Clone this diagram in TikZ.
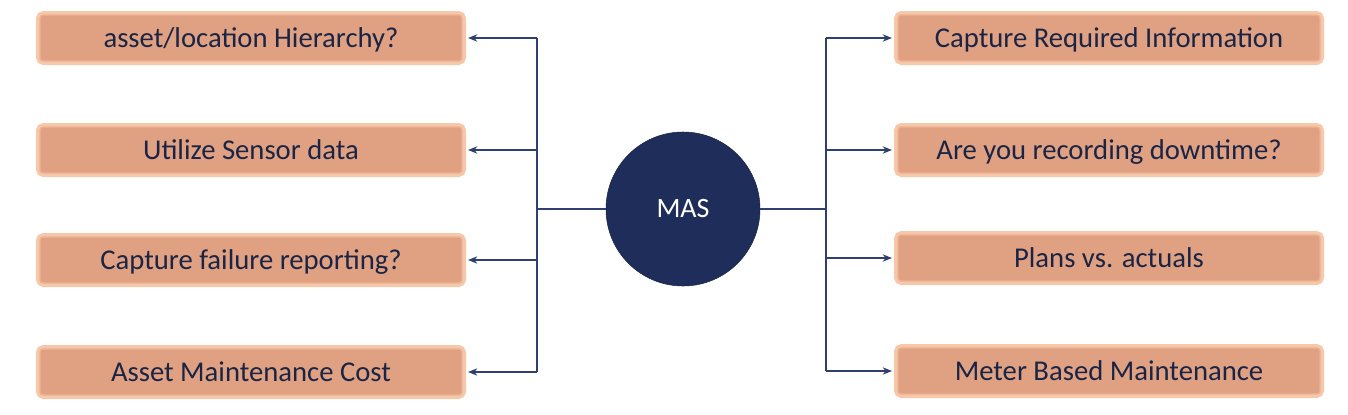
\documentclass[tikz,border=0pt]{standalone}
\usepackage{fontspec}
\setmainfont{Carlito}
\usetikzlibrary{arrows.meta}
\definecolor{boxfill}{HTML}{E0A082}
\definecolor{boxedge}{HTML}{F6C7A8}
\definecolor{boxin}{HTML}{EBB394}
\definecolor{navy}{HTML}{1F2D5A}
\definecolor{linec}{HTML}{2E3F70}
\definecolor{txt}{HTML}{1A2545}
\begin{document}
\begin{tikzpicture}[x=0.75pt,y=-0.75pt,
  itembox/.style={draw=boxedge,fill=boxfill,line width=3pt,rounded corners=4pt,
    minimum width=426*0.75pt,minimum height=50*0.75pt,inner sep=0pt,
    font=\fontsize{21.5}{24}\selectfont,text=txt,text depth=0.1em},
  inset/.style={draw=boxin,line width=0.8pt,rounded corners=2pt},
  hub/.style={circle,fill=navy,draw=navy!80!black,minimum size=154*0.75pt,inner sep=0pt,
    text=white,font=\fontsize{21}{24}\selectfont},
  link/.style={draw=linec,line width=0.9pt},
  arr/.style={link,-{Stealth[length=7pt,width=5.5pt]}}]
\useasboundingbox (0,0) rectangle (1348,414);
\node[hub] (mas) at (683,209) {MAS};
\node[itembox] (l1) at (251,38) {asset/location Hierarchy?};
\node[itembox] (l2) at (251,150) {Utilize Sensor data};
\node[itembox] (l3) at (251,260) {Capture failure reporting?};
\node[itembox] (l4) at (251,372) {Asset Maintenance Cost};
\node[itembox] (r1) at (1109,38) {Capture Required Information};
\node[itembox] (r2) at (1109,150) {Are you recording downtime?};
\node[itembox] (r3) at (1109,258) {Plans vs. actuals};
\node[itembox] (r4) at (1109,371) {Meter Based Maintenance};
\foreach \n in {l1,l2,l3,l4,r1,r2,r3,r4}
  \draw[inset] ([shift={(3pt,-3pt)}]\n.north west) rectangle ([shift={(-3pt,3pt)}]\n.south east);
\coordinate (lb) at (537,209);
\coordinate (rb) at (826,209);
\draw[link] (mas.west) -- (lb);
\draw[link] (mas.east) -- (rb);
\draw[link] (537,38) -- (537,372);
\draw[link] (826,38) -- (826,371);
\foreach \n in {l1,l2,l3,l4} \draw[arr] (lb |- \n.east) -- ([xshift=1.5pt]\n.east);
\foreach \n in {r1,r2,r3,r4} \draw[arr] (rb |- \n.west) -- ([xshift=-1.5pt]\n.west);
\end{tikzpicture}
\end{document}
